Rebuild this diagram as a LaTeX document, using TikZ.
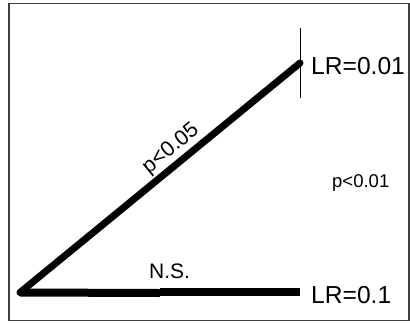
\documentclass[tikz,border=0pt]{standalone}
\usepackage{fontspec}
\setmainfont{Liberation Sans}
\begin{document}
\begin{tikzpicture}[x=1pt,y=-1pt,
  thick line/.style={line width=7.5pt},
  lbl/.style={inner sep=0pt, font=\fontsize{24.6}{26}\selectfont}]
\useasboundingbox (0,0) rectangle (410,322);
\draw[line width=1.3pt, black!75] (9,3.5) rectangle (409,320.5);
\coordinate (o) at (20,292.5);
\coordinate (m) at (160,293);
\coordinate (m2) at (160,292);
\coordinate (e) at (300,292);
\coordinate (t) at (300,63);
\coordinate (tt) at (300,28);
\coordinate (tb) at (300,98);
\draw[line width=8pt] (o) -- (m);
\draw[line width=8pt] (m2) -- (e);
\draw[line width=7pt, line cap=round] (o) -- (t);
\draw[line width=1pt] (tt) -- (tb);
\node[lbl, anchor=base west] (lr1) at (311,74) {LR=0.01};
\node[lbl, anchor=base west] (lr2) at (311,303) {LR=0.1};
\node[inner sep=0pt, anchor=base west, font=\fontsize{21}{24}\selectfont] (ns) at (149,278) {N.S.};
\node[inner sep=0pt, anchor=base west, font=\fontsize{18.5}{20}\selectfont] (p1) at (332,187) {p<0.01};
\node[inner sep=0pt, rotate=39.5, font=\fontsize{21.5}{24}\selectfont] (p5) at (171,149) {p<0.05};
\end{tikzpicture}
\end{document}
